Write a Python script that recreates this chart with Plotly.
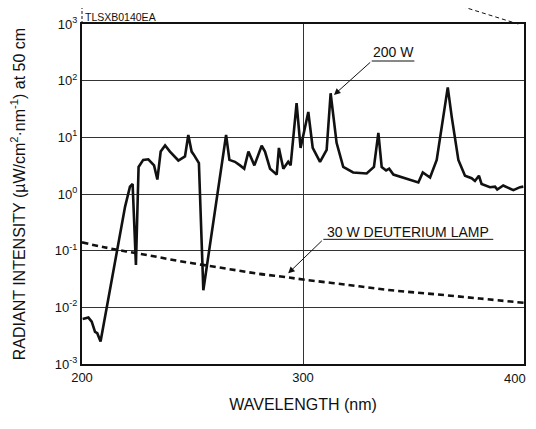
"""Spectral distribution: 200 W xenon lamp vs 30 W deuterium lamp."""

import math

import plotly.graph_objects as go

FONT = "Liberation Sans, Arial, sans-serif"
INK = "#111111"

# 200 W lamp (wavelength nm, uW/cm2/nm at 50 cm)
xe_wavelength = [
    200.3, 202.9, 204.4, 205.9, 206.9, 208.4, 219.5, 221.7, 222.9, 224.4,
    225.6, 227.7, 230.0, 232.6, 234.1, 235.6, 237.6, 239.8, 243.6, 246.6,
    248.1, 249.6, 250.5, 252.9, 254.9, 265.2, 266.7, 269.2, 271.5, 273.4,
    275.3, 278.0, 281.3, 282.8, 285.1, 288.1, 289.1, 291.1, 293.3, 294.4,
    297.1, 298.9, 302.4, 304.4, 307.7, 310.7, 312.5, 315.2, 318.2, 322.7,
    328.8, 332.1, 334.1, 335.6, 337.6, 339.0, 340.9, 348.4, 352.2, 354.2,
    357.5, 360.5, 363.5, 365.5, 367.3, 370.3, 373.3, 376.3, 377.8, 379.6,
    380.8, 382.8, 384.6, 386.9, 387.9, 390.6, 392.9, 395.2, 398.2, 399.7,
]
xe_intensity = [
    0.0062, 0.0066, 0.0056, 0.0037, 0.0035, 0.0025, 0.60, 1.35, 1.5, 0.056,
    3.0, 4.0, 4.1, 3.2, 1.8, 5.6, 7.2, 5.6, 3.9, 4.6,
    11.0, 5.6, 5.0, 3.5, 0.02, 11.0, 4.0, 3.7, 3.2, 2.8,
    5.6, 3.2, 7.1, 5.6, 2.8, 2.2, 6.5, 2.8, 3.7, 3.2,
    40.0, 6.5, 28.0, 6.5, 3.7, 6.0, 60.0, 8.0, 3.0, 2.4,
    2.3, 3.0, 12.0, 3.0, 2.6, 2.8, 2.2, 1.78, 1.6, 2.4,
    1.95, 4.0, 23.0, 76.0, 23.0, 4.0, 2.1, 1.9, 1.7, 2.1,
    1.5, 1.38, 1.32, 1.35, 1.2, 1.41, 1.29, 1.17, 1.32, 1.35,
]

# 30 W deuterium lamp
d2_wavelength = [200, 210, 220, 230, 240, 250, 260, 270, 280, 290, 300,
                 320, 340, 360, 380, 400]
d2_intensity = [0.14, 0.115, 0.097, 0.083, 0.07, 0.06, 0.052, 0.045, 0.039,
                0.035, 0.031, 0.025, 0.02, 0.017, 0.0143, 0.012]

x_ticks = [200, 300, 400]
y_exponents = [-3, -2, -1, 0, 1, 2, 3]

fig = go.Figure()
fig.add_trace(
    go.Scatter(
        x=xe_wavelength,
        y=xe_intensity,
        mode="lines",
        name="200 W",
        line=dict(color=INK, width=2.6),
    )
)
fig.add_trace(
    go.Scatter(
        x=d2_wavelength,
        y=d2_intensity,
        mode="lines",
        name="30 W DEUTERIUM LAMP",
        line=dict(color=INK, width=2.6, dash="6px,4px", shape="spline"),
    )
)


def callout(text, tip, tail, line_end, text_y):
    """Underlined label with a leader arrow; positions in (nm, value)."""
    lt = math.log10
    fig.add_annotation(
        x=tip[0], y=lt(tip[1]), ax=tail[0], ay=lt(tail[1]),
        xref="x", yref="y", axref="x", ayref="y",
        text="", showarrow=True, arrowhead=2, arrowsize=1.3,
        arrowwidth=1, arrowcolor=INK,
    )
    # shapes on a log axis take raw values
    fig.add_shape(
        type="line", xref="x", yref="y",
        x0=tail[0], x1=line_end, y0=tail[1], y1=tail[1],
        line=dict(color=INK, width=1),
    )
    fig.add_annotation(
        x=(tail[0] + line_end) / 2, y=lt(text_y), xref="x", yref="y",
        text=text, showarrow=False, font=dict(family=FONT, size=14, color=INK),
    )


callout("200 W", (314.0, 56), (331.1, 10 ** 2.347), 350.4, 10 ** 2.5)
callout("30 W DEUTERIUM LAMP", (293.3, 10 ** -1.40), (309.2, 10 ** -0.80),
        386.1, 10 ** -0.67)

# the last x label would be clipped at the window edge, so pin it inside
fig.add_annotation(
    x=x_ticks[-1], y=0, xref="x", yref="paper", xanchor="right",
    yanchor="top", xshift=4, yshift=-5, text=str(x_ticks[-1]),
    showarrow=False, font=dict(family=FONT, size=13, color=INK),
)

fig.add_annotation(
    x=0.003, y=1.045, xref="paper", yref="paper", xanchor="left",
    text="TLSXB0140EA", showarrow=False,
    font=dict(family=FONT, size=10.5, color=INK),
)
# drawing-frame remnants above the plot
fig.add_shape(type="line", xref="paper", yref="paper", x0=0, x1=0,
              y0=1.0, y1=1.07, line=dict(color=INK, width=1, dash="3px,2px"))
fig.add_shape(type="line", xref="paper", yref="paper", x0=0.814, x1=0.987,
              y0=1.07, y1=1.0, line=dict(color=INK, width=1, dash="4px,3px"))

# page body adds an 8 px margin round the figure
fig.update_layout(
    width=528,
    height=413,
    margin=dict(l=74, r=12, t=16, b=57),
    paper_bgcolor="white",
    plot_bgcolor="white",
    showlegend=False,
    font=dict(family=FONT, color=INK),
    xaxis=dict(
        range=[200, 400],
        tickvals=x_ticks,
        ticktext=[str(v) for v in x_ticks[:-1]] + [""],
        ticks="",
        tickfont=dict(size=13),
        showgrid=True,
        gridcolor="#333333",
        gridwidth=1,
        showline=True,
        linecolor=INK,
        linewidth=2,
        mirror=True,
        zeroline=False,
        automargin=False,
        title=dict(text="WAVELENGTH (nm)", font=dict(size=16), standoff=15),
    ),
    yaxis=dict(
        type="log",
        range=[-3, 3],
        tickvals=[10 ** e for e in y_exponents],
        ticktext=[f"10<sup>{e}</sup>" for e in y_exponents],
        ticks="",
        tickfont=dict(size=13),
        showgrid=True,
        gridcolor="#333333",
        gridwidth=1,
        showline=True,
        linecolor=INK,
        linewidth=2,
        mirror=True,
        zeroline=False,
        automargin=False,
        title=dict(
            text="RADIANT INTENSITY (µW/cm<sup>2</sup>·nm<sup>-1</sup>) at 50 cm",
            font=dict(size=16),
            standoff=32,
        ),
    ),
)

fig.write_html("out.html")
